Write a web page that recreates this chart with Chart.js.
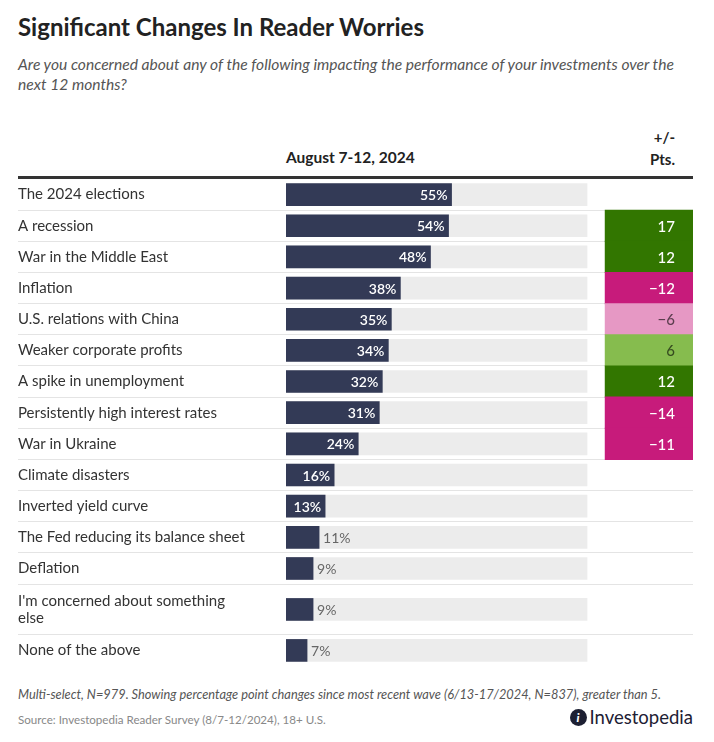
<!DOCTYPE html>
<html>
<head>
<meta charset="utf-8">
<script src="https://cdn.jsdelivr.net/npm/chart.js@4.4.1/dist/chart.umd.min.js"></script>
<style>
  body { margin: 0; background: #fff; font-family: Lato, "Noto Sans", sans-serif; color: #222; }
  #wrap { position: relative; width: 714px; height: 742px; overflow: hidden; }
  .abs { position: absolute; white-space: nowrap; }
  #title { left: 18px; top: 12px; font-size: 24px; font-weight: 700; color: #222; }
  #sub { left: 18px; top: 54px; font-size: 15.6px; line-height: 20px; font-style: italic; color: #555; white-space: normal; width: 672px; }
  #hdr { left: 18px; top: 100px; width: 675px; height: 76px; border-bottom: 3px solid #333; }
  #hdrA { left: 286px; top: 148px; font-size: 15.5px; font-weight: 700; }
  #hdrB { right: 39px; top: 126px; font-size: 15px; font-weight: 700; text-align: right; line-height: 22px; }
  #cv { position: absolute; left: 0; top: 179px; }
  #note { left: 18px; top: 686px; font-size: 12.8px; font-style: italic; color: #555; }
  #src { left: 18px; top: 713px; font-size: 11.6px; color: #888; }
  #logo { right: 21px; top: 706px; font-size: 18.5px; color: #1d2033; display: flex; align-items: center; }
  #logo .ic { width: 17px; height: 17px; border-radius: 50%; background: #1d2033; color: #fff; font-size: 12px; font-weight: 900; display: inline-flex; align-items: center; justify-content: center; margin-right: 3px; font-style: italic; }
</style>
</head>
<body>
<div id="wrap">
  <div id="title" class="abs">Significant Changes In Reader Worries</div>
  <div id="sub" class="abs">Are you concerned about any of the following impacting the performance of your investments over the next 12 months?</div>
  <div id="hdr" class="abs"></div>
  <div id="hdrA" class="abs">August 7-12, 2024</div>
  <div id="hdrB" class="abs">+/-<br>Pts.</div>
  <canvas id="cv" width="714" height="487"></canvas>
  <div id="note" class="abs">Multi-select, N=979. Showing percentage point changes since most recent wave (6/13-17/2024, N=837), greater than 5.</div>
  <div id="src" class="abs">Source: Investopedia Reader Survey (8/7-12/2024), 18+ U.S.</div>
  <div id="logo" class="abs"><span class="ic">i</span>Investopedia</div>
</div>
<script>
// survey answers, share of readers (%) and change in points vs previous wave
const categories = [
  "The 2024 elections", "A recession", "War in the Middle East", "Inflation",
  "U.S. relations with China", "Weaker corporate profits", "A spike in unemployment",
  "Persistently high interest rates", "War in Ukraine", "Climate disasters",
  "Inverted yield curve", "The Fed reducing its balance sheet", "Deflation",
  "I'm concerned about something\nelse", "None of the above"
];
const shares = [55, 54, 48, 38, 35, 34, 32, 31, 24, 16, 13, 11, 9, 9, 7];
const changes = [null, 17, 12, -12, -6, 6, 12, -14, -11, null, null, null, null, null, null];

const FONT = "Lato, 'Noto Sans', sans-serif";
const X_MAX = 135.2;       // track = 100, the +/- column sits to the right of it
const COL = [106, X_MAX];

// row heights: a wrapped label makes its row taller
let pos = 0;
const rows = categories.map(c => {
  const lines = c.split("\n");
  const h = 1 + 0.63 * (lines.length - 1);
  const r = { lines, top: pos, center: pos + h / 2, bottom: pos + h };
  pos += h;
  return r;
});
const total = pos;

function changeColor(v) {
  if (v >= 10) return "#327600";
  if (v > 0) return "#86bc4e";
  if (v <= -10) return "#c71b7b";
  return "#e698c4";
}
function fmtChange(v) {
  return v < 0 ? "\u2212" + Math.abs(v) : String(v);
}

const labelPlugin = {
  id: "labels",
  afterDatasetsDraw(chart) {
    const ctx = chart.ctx;
    ctx.save();
    ctx.textBaseline = "middle";
    chart.getDatasetMeta(0).data.forEach((bar, i) => {
      const v = shares[i];
      if (v >= 13) {
        ctx.fillStyle = "#fff";
        ctx.font = "600 14px " + FONT;
        ctx.textAlign = "right";
        ctx.fillText(v + "%", bar.x - 4, bar.y + 1);
      } else {
        ctx.fillStyle = "#666";
        ctx.font = "400 14px " + FONT;
        ctx.textAlign = "left";
        ctx.fillText(v + "%", bar.x + 4, bar.y + 1);
      }
    });
    const cm = chart.getDatasetMeta(2);
    cm.data.forEach((cell, i) => {
      const v = chart.data.datasets[2].values[i];
      ctx.fillStyle = Math.abs(v) >= 10 ? "#fff" : "rgba(0,0,0,0.6)";
      ctx.font = "500 15px " + FONT;
      ctx.textAlign = "right";
      ctx.fillText(fmtChange(v), cell.x - 18, cell.y + 1);
    });
    ctx.restore();
  }
};

const changeRows = [];
changes.forEach((v, i) => { if (v !== null) changeRows.push(i); });

const yTicks = [{ value: 0, edge: true }];
rows.forEach((r, i) => {
  yTicks.push({ value: r.center, name: r.lines });
  if (i < rows.length - 1) yTicks.push({ value: r.bottom, boundary: true });
});
yTicks.push({ value: total, edge: true });

new Chart(document.getElementById("cv"), {
  type: "bar",
  data: {
    datasets: [
      {
        data: rows.map((r, i) => ({ x: shares[i], y: r.center })),
        backgroundColor: "#333a56",
        barThickness: 22,
        order: 1
      },
      {
        data: rows.map(r => ({ x: 100, y: r.center })),
        backgroundColor: "#ececec",
        barThickness: 22,
        order: 2
      },
      {
        data: changeRows.map(i => ({ x: COL, y: rows[i].center })),
        values: changeRows.map(i => changes[i]),
        backgroundColor: changeRows.map(i => changeColor(changes[i])),
        barThickness: 31.5,
        order: 0
      }
    ]
  },
  options: {
    indexAxis: "y",
    responsive: false,
    animation: false,
    datasets: { bar: { grouped: false } },
    layout: { padding: { left: 18, right: 21, top: 0, bottom: 0 } },
    plugins: { legend: { display: false }, tooltip: { enabled: false } },
    scales: {
      x: { type: "linear", min: 0, max: X_MAX, display: false },
      y: {
        type: "linear",
        reverse: true,
        offset: false,
        min: 0,
        max: total,
        border: { display: false },
        afterBuildTicks: s => { s.ticks = yTicks.map(t => Object.assign({}, t)); },
        afterFit: s => { s.width = 268; s.paddingTop = 0; s.paddingBottom = 0; },
        grid: {
          offset: false,
          drawTicks: true,
          tickLength: 268,
          lineWidth: 1,
          color: c => (c.tick && c.tick.boundary ? "#e4e4e4" : "rgba(0,0,0,0)")
        },
        ticks: {
          autoSkip: false,
          crossAlign: "far",
          padding: 0,
          color: "#333",
          font: { family: FONT, size: 15, lineHeight: 1.17 },
          callback: (v, i, ticks) => ticks[i].name || []
        }
      }
    }
  },
  plugins: [labelPlugin]
});
</script>
</body>
</html>
